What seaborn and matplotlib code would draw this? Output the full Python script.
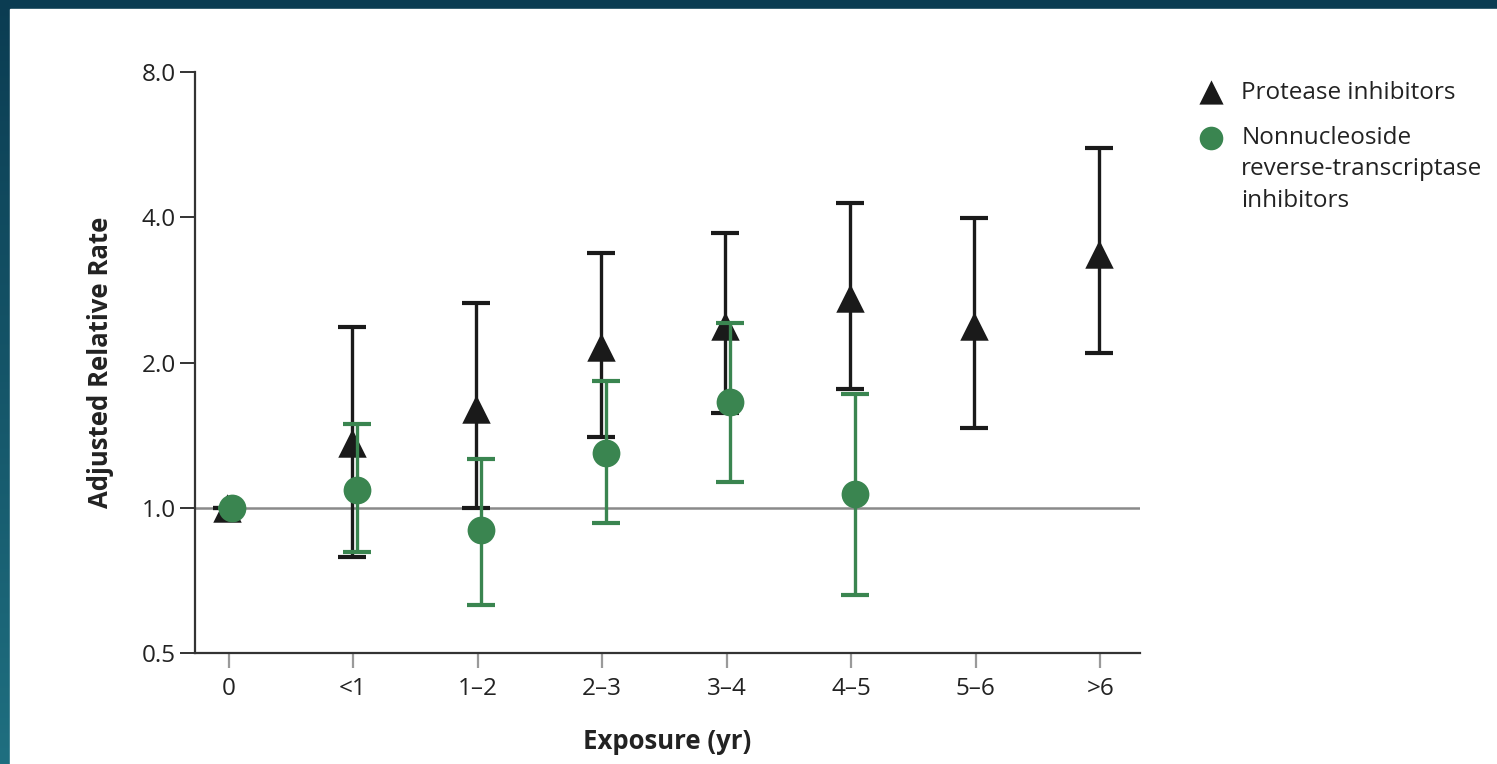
import numpy as np
import pandas as pd
import matplotlib.pyplot as plt
import seaborn as sns
from matplotlib.colors import LinearSegmentedColormap

# data (adjusted relative rate, log2 axis)
exposure = ["0", "<1", "1\u20132", "2\u20133", "3\u20134", "4\u20135", "5\u20136", ">6"]

pi_rate = [1.0, 1.36, 1.60, 2.15, 2.38, 2.72, 2.38, 3.36]
pi_low = [1.0, 0.79, 1.00, 1.40, 1.57, 1.76, 1.46, 2.09]
pi_high = [1.0, 2.37, 2.66, 3.38, 3.71, 4.28, 3.99, 5.57]

nnrti_rate = [1.0, 1.09, 0.90, 1.30, 1.66, 1.07]
nnrti_low = [1.0, 0.81, 0.63, 0.93, 1.13, 0.66]
nnrti_high = [1.0, 1.49, 1.26, 1.83, 2.42, 1.72]

yticks = [0.5, 1.0, 2.0, 4.0, 8.0]

pi_label = "Protease inhibitors"
nnrti_label = ["Nonnucleoside", "reverse-transcriptase", "inhibitors"]

black = "#1a1a1a"
green = "#3a8550"
txt = "#222222"

sns.set_theme(style="ticks")
plt.rcParams["font.family"] = ["Open Sans", "DejaVu Sans"]

fig = plt.figure(figsize=(14.97, 7.64), dpi=100)

# dark teal frame with a soft gradient
bg = fig.add_axes([0, 0, 1, 1], zorder=-10)
grad = np.linspace(0, 1, 256).reshape(-1, 1)
cmap = LinearSegmentedColormap.from_list("teal", ["#0b3c52", "#1f6f80"])
bg.imshow(grad, aspect="auto", cmap=cmap, extent=[0, 1, 0, 1], origin="upper")
bg.add_patch(plt.Rectangle((10 / 1497, 0), 1, (764 - 9) / 764, color="white"))
bg.set_xlim(0, 1)
bg.set_ylim(0, 1)
bg.axis("off")

ax = fig.add_axes([195 / 1497, (764 - 653) / 764, (1140 - 195) / 1497, (653 - 72) / 764])
ax.set_facecolor("none")

pi = pd.DataFrame({"x": np.arange(len(exposure)) - 0.01, "rate": pi_rate,
                   "low": pi_low, "high": pi_high})
nn = pd.DataFrame({"x": np.arange(len(nnrti_rate)) + 0.03, "rate": nnrti_rate,
                   "low": nnrti_low, "high": nnrti_high})

ax.axhline(1.0, color="#8a8a8a", lw=1.8, zorder=1)

ax.errorbar(pi["x"], pi["rate"], yerr=[pi["rate"] - pi["low"], pi["high"] - pi["rate"]],
            fmt="none", ecolor=black, elinewidth=2.4, capsize=10, capthick=3, zorder=2)
sns.scatterplot(data=pi, x="x", y="rate", marker="^", s=420, color=black,
                edgecolor=black, linewidth=0, ax=ax, zorder=3, label=pi_label)

ax.errorbar(nn["x"], nn["rate"], yerr=[nn["rate"] - nn["low"], nn["high"] - nn["rate"]],
            fmt="none", ecolor=green, elinewidth=2.4, capsize=10, capthick=3, zorder=4)
sns.scatterplot(data=nn, x="x", y="rate", marker="o", s=400, color=green,
                edgecolor=green, linewidth=0, ax=ax, zorder=5, label=nnrti_label[0])

ax.set_yscale("log", base=2)
ax.set_ylim(0.5, 8.0)
ax.set_yticks(yticks)
ax.set_yticklabels([f"{t:.1f}" for t in yticks])
ax.minorticks_off()
ax.set_xlim(-0.27, len(exposure) - 1 + 0.32)
ax.set_xticks(np.arange(len(exposure)))
ax.set_xticklabels(exposure)

sns.despine(ax=ax)
for side in ["left", "bottom"]:
    ax.spines[side].set_color("#333333")
    ax.spines[side].set_linewidth(1.6)
ax.tick_params(axis="y", length=11, width=1.4, color="#333333", labelsize=17.5,
               labelcolor=txt, pad=3)
ax.tick_params(axis="x", length=11, width=1.6, color="#9a9a9a", labelsize=17.5,
               labelcolor=txt, pad=6)

ax.set_xlabel("Exposure (yr)", fontsize=18.5, fontweight="bold", color=txt, labelpad=20)
ax.set_ylabel("Adjusted Relative Rate", fontsize=18.5, fontweight="bold", color=txt,
              labelpad=20)

leg = ax.legend(loc="upper left", bbox_to_anchor=(1.039, 1.002), frameon=False,
                fontsize=17.5, handletextpad=0.25, labelspacing=0.9, markerscale=0.85,
                borderaxespad=0)
for t in leg.get_texts():
    t.set_color(txt)

# remaining lines of the second legend entry, hung under its first line
fig.canvas.draw()
bb = leg.get_texts()[1].get_window_extent().transformed(fig.transFigure.inverted())
fig.text(bb.x0, bb.y0 - 0.009, "\n".join(nnrti_label[1:]), ha="left", va="top",
         fontsize=17.5, color=txt, linespacing=1.45)

fig.savefig("out.png", dpi=100)
